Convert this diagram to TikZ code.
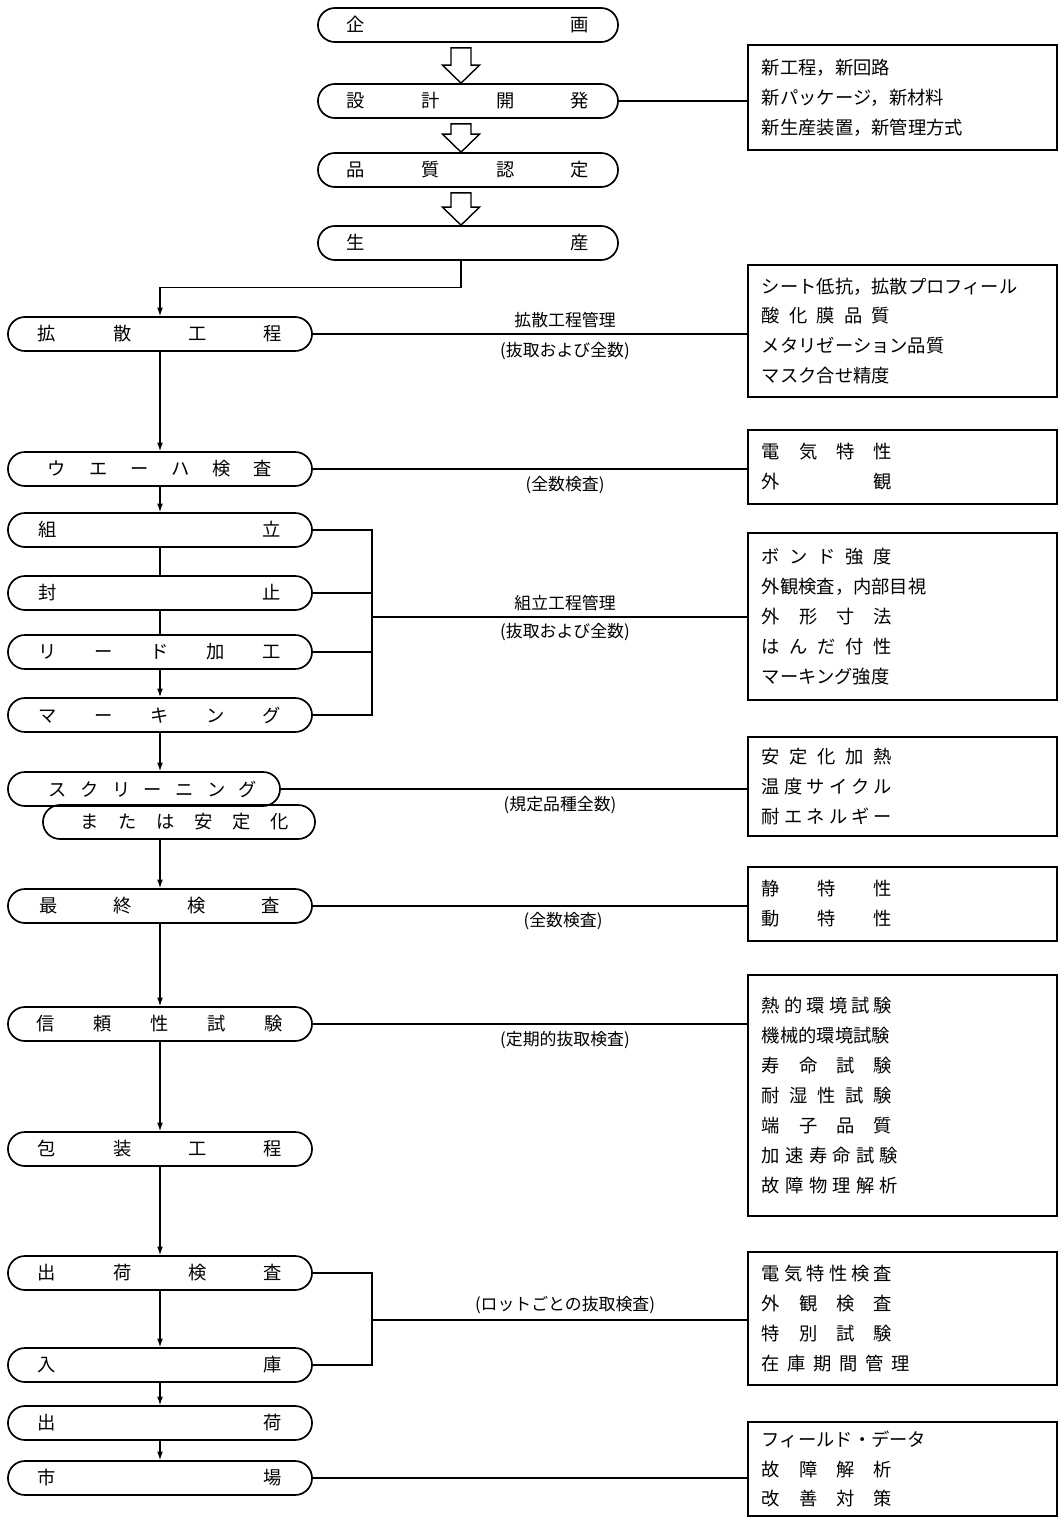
\documentclass[tikz,border=0pt]{standalone}
\usepackage{fontspec}
\setmainfont{Noto Sans CJK JP}
\usetikzlibrary{positioning,calc}
\usetikzlibrary{arrows.meta}
% spread the characters of #2 evenly over width #1
\def\spacedloop#1#2{#1\ifx\relax#2\else\hfil\expandafter\spacedloop\fi#2}
\newcommand\spaced[2]{\makebox[#1][s]{\spacedloop#2\relax}}
\tikzset{
  proc/.style={draw=black,line width=1.2pt,rounded corners=0.425cm,minimum width=7.6cm,
    minimum height=0.85cm,inner sep=0pt,font=\fontsize{13}{15}\selectfont},
  infobox/.style={draw=black,line width=1pt,minimum width=7.725cm,text width=7.025cm,
    inner xsep=0.35cm,inner ysep=0pt,align=left,font=\fontsize{13}{21.3}\selectfont},
  lab/.style={inner sep=1pt,font=\fontsize{12}{14}\selectfont},
  link/.style={draw=black,line width=0.8pt},
  flow/.style={link,-{Latex[length=6pt,width=4pt]}},
}
\tikzset{fatarrow/.style={draw=black,line width=1pt,fill=white,line join=miter}}

\begin{document}
\begin{tikzpicture}[x=0.025cm,y=-0.025cm]
\useasboundingbox (0,0) rectangle (1060,1519);
% main flow, top
\node[proc,minimum width=7.5cm] (kikaku) at (468,25) {\spaced{6.05cm}{企画}};
\node[proc,minimum width=7.5cm] (sekkei) at (468,101) {\spaced{6.05cm}{設計開発}};
\node[proc,minimum width=7.5cm] (hinshitsu) at (468,170) {\spaced{6.05cm}{品質認定}};
\node[proc,minimum width=7.5cm] (seisan) at (468,243) {\spaced{6.05cm}{生産}};
\foreach \a/\b in {kikaku/sekkei,sekkei/hinshitsu,hinshitsu/seisan}
  \draw[fatarrow] ($(\a.south)+(-17,5)$) -- ($(\b.north)+(-17,-18)$) -- ($(\b.north)+(-25.5,-18)$)
    -- ($(\b.north)+(-7,0)$) -- ($(\b.north)+(11.5,-18)$) -- ($(\b.north)+(3,-18)$)
    -- ($(\a.south)+(3,5)$) -- cycle;
% process steps
\node[proc] (diff) at (160,334) {\spaced{6.1cm}{拡散工程}};
\node[proc] (wafer) at (160,469) {\spaced{5.6cm}{ウエーハ検査}};
\node[proc] (kumi) at (160,530) {\spaced{6.05cm}{組立}};
\node[proc] (fuu) at (160,593) {\spaced{6.05cm}{封止}};
\node[proc] (lead) at (160,652) {\spaced{6.05cm}{リード加工}};
\node[proc] (mark) at (160,715) {\spaced{6.05cm}{マーキング}};
\node[proc,minimum width=6.8cm] (scr) at (144,789) {\hspace*{0.45cm}\spaced{5.2cm}{スクリーニング}};
\node[proc,minimum width=6.8cm] (mata) at (179,822) {\hspace*{0.3cm}\spaced{5.2cm}{または安定化}};
\node[proc] (final) at (160,906) {\spaced{6cm}{最終検査}};
\node[proc] (rel) at (160,1024) {\spaced{6.15cm}{信頼性試験}};
\node[proc] (pack) at (160,1149) {\spaced{6.1cm}{包装工程}};
\node[proc] (ship) at (160,1273) {\spaced{6.1cm}{出荷検査}};
\node[proc] (store) at (160,1365) {\spaced{6.1cm}{入庫}};
\node[proc] (out) at (160,1423) {\spaced{6.1cm}{出荷}};
\node[proc] (market) at (160,1478) {\spaced{6.1cm}{市場}};
% check items
\node[infobox,minimum height=2.625cm] (b1) at (902.5,97.5) {新工程，新回路\\新パッケージ，新材料\\新生産装置，新管理方式};
\node[infobox,minimum height=3.3cm] (b2) at (902.5,331) {シート低抗，拡散プロフィール\\\spaced{3.2cm}{酸化膜品質}\\メタリゼーション品質\\マスク合せ精度};
\node[infobox,minimum height=1.85cm] (b3) at (902.5,467) {\spaced{3.25cm}{電気特性}\\\spaced{3.25cm}{外観}};
\node[infobox,minimum height=4.175cm] (b4) at (902.5,616.5) {\spaced{3.25cm}{ボンド強度}\\外観検査，内部目視\\\spaced{3.25cm}{外形寸法}\\\spaced{3.25cm}{はんだ付性}\\マーキング強度};
\node[infobox,minimum height=2.475cm] (b5) at (902.5,786.5) {\spaced{3.25cm}{安定化加熱}\\\spaced{3.25cm}{温度サイクル}\\\spaced{3.25cm}{耐エネルギー}};
\node[infobox,minimum height=1.85cm] (b6) at (902.5,904) {\spaced{3.25cm}{静特性}\\\spaced{3.25cm}{動特性}};
\node[infobox,minimum height=6.025cm] (b7) at (902.5,1095.5) {\spaced{3.25cm}{熱的環境試験}\\機械的環境試験\\\spaced{3.25cm}{寿命試験}\\\spaced{3.25cm}{耐湿性試験}\\\spaced{3.25cm}{端子品質}\\\spaced{3.4cm}{加速寿命試験}\\\spaced{3.4cm}{故障物理解析}};
\node[infobox,minimum height=3.325cm] (b8) at (902.5,1318.5) {\spaced{3.25cm}{電気特性検査}\\\spaced{3.25cm}{外観検査}\\\spaced{3.25cm}{特別試験}\\\spaced{3.7cm}{在庫期間管理}};
\node[infobox,minimum height=2.35cm] (b9) at (902.5,1469) {フィールド・データ\\\spaced{3.25cm}{故障解析}\\\spaced{3.25cm}{改善対策}};
% labels on the lines
\node[lab] (l1a) at (565,320) {拡散工程管理};
\node[lab] (l1b) at (565,351) {(抜取および全数)};
\node[lab] (l2) at (565,485) {(全数検査)};
\node[lab] (l3a) at (565,603) {組立工程管理};
\node[lab] (l3b) at (565,632) {(抜取および全数)};
\node[lab] (l4) at (560,805) {(規定品種全数)};
\node[lab] (l5) at (563,921) {(全数検査)};
\node[lab] (l6) at (565,1040) {(定期的抜取検査)};
\node[lab] (l7) at (565,1305) {(ロットごとの抜取検査)};
\coordinate (asmbus) at (372,617);
\coordinate (shipbus) at (372,1320);
% flow lines
\draw[flow] ($(seisan.south)+(-7,0)$) -- ++(0,27) -| (diff.north);
\draw[flow] (diff) -- (wafer);
\draw[flow] (wafer) -- (kumi);
\draw[link] (kumi) -- (fuu);
\draw[link] (fuu) -- (lead);
\draw[flow] (lead) -- (mark);
\draw[flow] (mark.south) -- (mark.south |- scr.north);
\draw[flow] (final.north |- mata.south) -- (final.north);
\draw[flow] (final) -- (rel);
\draw[flow] (rel) -- (pack);
\draw[flow] (pack) -- (ship);
\draw[flow] (ship) -- (store);
\draw[flow] (store) -- (out);
\draw[flow] (out) -- (market);
% lines to the check items
\draw[link] (sekkei.east) -- (sekkei.east -| b1.west);
\draw[link] (diff.east) -- (diff.east -| b2.west);
\draw[link] (wafer.east) -- (wafer.east -| b3.west);
\draw[link] (kumi.east) -- (kumi.east -| asmbus) -- (mark.east -| asmbus) -- (mark.east);
\draw[link] (fuu.east) -- (fuu.east -| asmbus);
\draw[link] (lead.east) -- (lead.east -| asmbus);
\draw[link] (asmbus) -- (asmbus -| b4.west);
\draw[link] (scr.east) -- (scr.east -| b5.west);
\draw[link] (final.east) -- (final.east -| b6.west);
\draw[link] (rel.east) -- (rel.east -| b7.west);
\draw[link] (ship.east) -- (ship.east -| shipbus) -- (store.east -| shipbus) -- (store.east);
\draw[link] (shipbus) -- (shipbus -| b8.west);
\draw[link] (market.east) -- (market.east -| b9.west);
\end{tikzpicture}
\end{document}
